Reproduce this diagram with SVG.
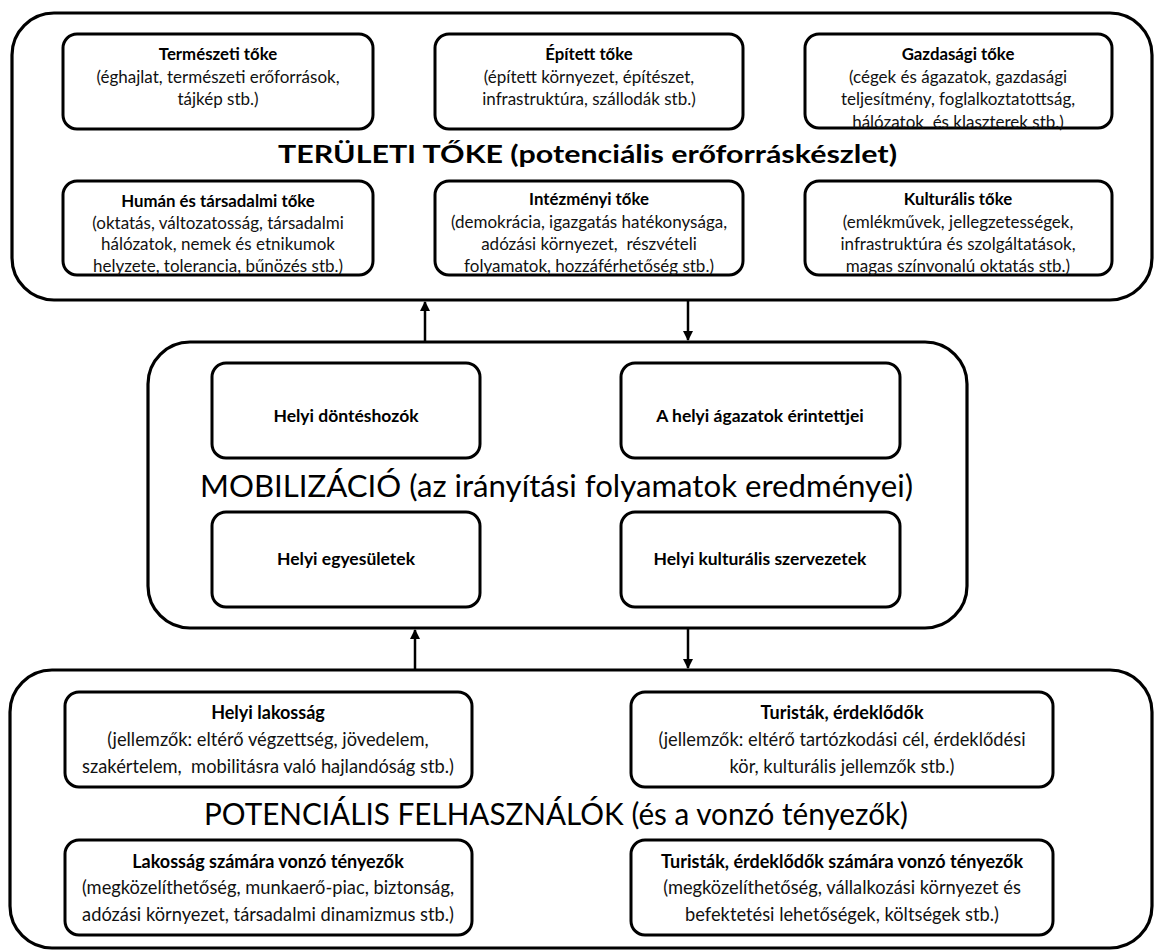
<svg xmlns="http://www.w3.org/2000/svg" width="1155" height="951" viewBox="0 0 1155 951">
<defs>
<style>
.outer{fill:#fff;stroke:#000;stroke-width:3.2}
.inner{fill:#fff;stroke:#000;stroke-width:3}
text{font-family:Lato,"Liberation Sans",sans-serif;fill:#000;text-anchor:middle;white-space:pre}
.h{font-weight:bold;font-size:16.8px}
.t{font-size:17px;fill:#111}
.mh{font-weight:bold;font-size:17.5px}
.bh{font-weight:bold;font-size:18px}
.bt{font-size:18.3px;fill:#111}
.title{font-weight:bold;font-size:24px;text-anchor:start}
.title2{font-size:30px;text-anchor:start}
.conn{stroke:#000;stroke-width:2.5;fill:none}
</style>
<marker id="ah" viewBox="0 0 10 10" refX="9" refY="5" markerWidth="4" markerHeight="4" orient="auto" markerUnits="strokeWidth">
<path d="M0,0 L10,5 L0,10 z" fill="#000"/>
</marker>
</defs>
<rect width="1155" height="951" fill="#fff"/>

<g id="teruleti-toke">
<rect class="outer" x="12" y="13" width="1140" height="287" rx="42"/>
<text class="title" x="278" y="163" textLength="619" lengthAdjust="spacingAndGlyphs">TERÜLETI TŐKE (potenciális erőforráskészlet)</text>
</g>
<g id="termeszeti">
<rect class="inner" x="63" y="34" width="310" height="95" rx="14"/>
<text class="h" x="218" y="60">Természeti tőke</text>
<text class="t" x="218" y="82.5">(éghajlat, természeti erőforrások,</text>
<text class="t" x="218" y="105">tájkép stb.)</text>
</g>
<g id="epitett">
<rect class="inner" x="435" y="34" width="308" height="95" rx="14"/>
<text class="h" x="589" y="60">Épített tőke</text>
<text class="t" x="589" y="82.5">(épített környezet, építészet,</text>
<text class="t" x="589" y="105">infrastruktúra, szállodák stb.)</text>
</g>
<g id="gazdasagi">
<rect class="inner" x="805" y="34" width="307" height="94" rx="14"/>
<text class="h" x="958" y="60">Gazdasági tőke</text>
<text class="t" x="958" y="82.5">(cégek és ágazatok, gazdasági</text>
<text class="t" x="958" y="105">teljesítmény, foglalkoztatottság,</text>
<text class="t" x="958" y="128">hálózatok  és klaszterek stb.)</text>
</g>
<g id="human">
<rect class="inner" x="63" y="181" width="310" height="94" rx="14"/>
<text class="h" x="218" y="207">Humán és társadalmi tőke</text>
<text class="t" x="218" y="228.5">(oktatás, változatosság, társadalmi</text>
<text class="t" x="218" y="250">hálózatok, nemek és etnikumok</text>
<text class="t" x="218" y="272">helyzete, tolerancia, bűnözés stb.)</text>
</g>
<g id="intezmenyi">
<rect class="inner" x="435" y="181" width="308" height="94" rx="14"/>
<text class="h" x="589" y="205">Intézményi tőke</text>
<text class="t" x="589" y="227.5">(demokrácia, igazgatás hatékonysága,</text>
<text class="t" x="589" y="250">adózási környezet,  részvételi</text>
<text class="t" x="589" y="272">folyamatok, hozzáférhetőség stb.)</text>
</g>
<g id="kulturalis">
<rect class="inner" x="805" y="181" width="307" height="94" rx="14"/>
<text class="h" x="958" y="205">Kulturális tőke</text>
<text class="t" x="958" y="228">(emlékművek, jellegzetességek,</text>
<text class="t" x="958" y="250">infrastruktúra és szolgáltatások,</text>
<text class="t" x="958" y="272">magas színvonalú oktatás stb.)</text>
</g>

<g id="mobilizacio">
<rect class="outer" x="148" y="342" width="819" height="286" rx="42"/>
<text class="title2" x="200" y="497" textLength="713" lengthAdjust="spacingAndGlyphs">MOBILIZÁCIÓ (az irányítási folyamatok eredményei)</text>
</g>
<g id="dontéshozok">
<rect class="inner" x="212" y="363" width="268" height="95" rx="14"/>
<text class="mh" x="346" y="422">Helyi döntéshozók</text>
</g>
<g id="agazatok">
<rect class="inner" x="621" y="363" width="279" height="95" rx="14"/>
<text class="mh" x="760" y="422">A helyi ágazatok érintettjei</text>
</g>
<g id="egyesuletek">
<rect class="inner" x="212" y="512" width="268" height="95" rx="14"/>
<text class="mh" x="346" y="565">Helyi egyesületek</text>
</g>
<g id="kulturalis-szervezetek">
<rect class="inner" x="621" y="512" width="279" height="95" rx="14"/>
<text class="mh" x="760" y="565">Helyi kulturális szervezetek</text>
</g>

<g id="felhasznalok">
<rect class="outer" x="10" y="670" width="1142" height="278" rx="42"/>
<text class="title2" x="204" y="825" textLength="704" lengthAdjust="spacingAndGlyphs">POTENCIÁLIS FELHASZNÁLÓK (és a vonzó tényezők)</text>
</g>
<g id="lakossag">
<rect class="inner" x="65" y="692" width="407" height="95" rx="14"/>
<text class="bh" x="268" y="719">Helyi lakosság</text>
<text class="bt" x="268" y="746">(jellemzők: eltérő végzettség, jövedelem,</text>
<text class="bt" x="268" y="773">szakértelem,  mobilitásra való hajlandóság stb.)</text>
</g>
<g id="turistak">
<rect class="inner" x="631" y="692" width="422" height="95" rx="14"/>
<text class="bh" x="842" y="719">Turisták, érdeklődők</text>
<text class="bt" x="842" y="746">(jellemzők: eltérő tartózkodási cél, érdeklődési</text>
<text class="bt" x="842" y="773">kör, kulturális jellemzők stb.)</text>
</g>
<g id="lakossag-vonzo">
<rect class="inner" x="65" y="840" width="407" height="95" rx="14"/>
<text class="bh" x="268" y="868">Lakosság számára vonzó tényezők</text>
<text class="bt" x="268" y="894">(megközelíthetőség, munkaerő-piac, biztonság,</text>
<text class="bt" x="268" y="921">adózási környezet, társadalmi dinamizmus stb.)</text>
</g>
<g id="turistak-vonzo">
<rect class="inner" x="631" y="840" width="422" height="95" rx="14"/>
<text class="bh" x="842" y="868">Turisták, érdeklődők számára vonzó tényezők</text>
<text class="bt" x="842" y="894">(megközelíthetőség, vállalkozási környezet és</text>
<text class="bt" x="842" y="921">befektetési lehetőségek, költségek stb.)</text>
</g>

<g id="connectors">
<line class="conn" x1="425" y1="341" x2="425" y2="302" marker-end="url(#ah)"/>
<line class="conn" x1="688" y1="301" x2="688" y2="340" marker-end="url(#ah)"/>
<line class="conn" x1="415" y1="669" x2="415" y2="630" marker-end="url(#ah)"/>
<line class="conn" x1="688" y1="629" x2="688" y2="668" marker-end="url(#ah)"/>
</g>
</svg>
